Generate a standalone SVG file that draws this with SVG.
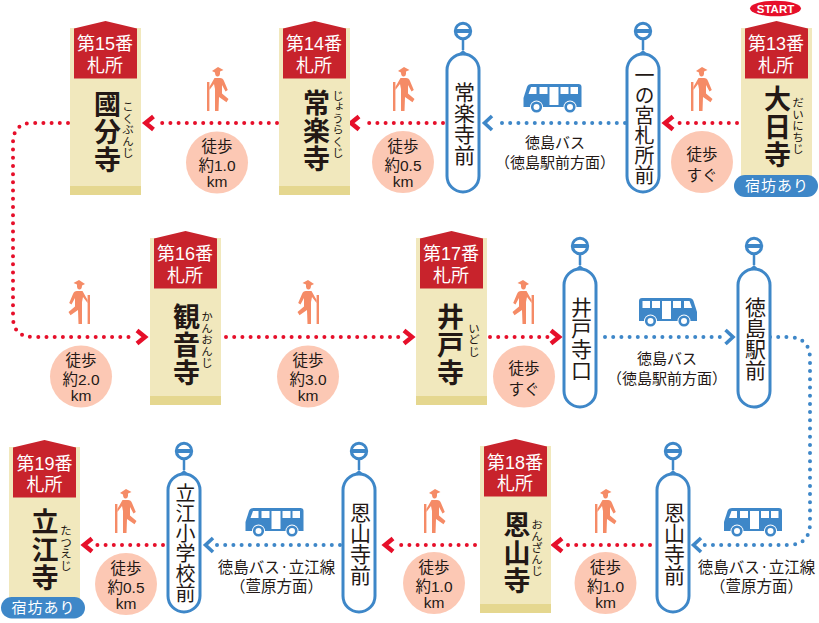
<svg xmlns="http://www.w3.org/2000/svg" width="819" height="623" viewBox="0 0 819 623">
<style>
text{font-family:"Liberation Sans","Noto Sans CJK JP",sans-serif;text-anchor:middle;fill:#231815}
.n{font-size:18px;fill:#fff}
.v{writing-mode:vertical-rl}
.t{font-size:27px;font-weight:700;letter-spacing:1px}
.r{font-size:11.5px}
.s{font-size:21px}
.w{font-size:15.5px}
.b{font-size:15px}
.y{font-size:15px;fill:#fff;letter-spacing:1px}
.rd{fill:none;stroke:#e60f2a;stroke-width:4;stroke-linecap:round;stroke-dasharray:0 8.2}
.bd{fill:none;stroke:#3e87c8;stroke-width:4;stroke-linecap:round;stroke-dasharray:0 8.2}
.ra{fill:none;stroke:#e60f2a;stroke-width:4.500}
.ba{fill:none;stroke:#3e87c8;stroke-width:3.600}
</style>
<defs>
<g id="post"><rect x="0" y="7" width="71" height="167" fill="#f1e8bd"/><rect x="0" y="165" width="71" height="9" fill="#e5d78f"/><path d="M4 7.500L35.500 0L67 7.500V57.500H4Z" fill="#c8232c"/></g>
<g id="stop"><circle cx="0" cy="0" r="7.700" fill="#fff" stroke="#3e87c8" stroke-width="3"/><rect x="-8" y="-2" width="16" height="4" fill="#3e87c8"/><path d="M0 8V19" stroke="#3e87c8" stroke-width="2.500"/><path d="M-6.500 25L0 19L6.500 25Z" fill="#3e87c8"/><rect x="-16" y="23" width="32" height="138" rx="16" fill="#fff" stroke="#3e87c8" stroke-width="3"/></g>
<g id="walk" fill="#f58b66"><rect x="0" y="-7" width="2.400" height="29"/><path d="M5 -18L11 -22L16.500 -19L13 -17.500V-15Q12.500 -12 10 -12.500Q8 -13 8 -16.500Z"/><path d="M7.500 -11H13Q16 -11 17 -8L20.800 1L18.500 2.500L15 -4V4.500L21.500 10L19.500 13.200L12 8L11.500 22H8V0L7 -5L2.400 1V-2Z"/></g>
<g id="bus"><path d="M-29 10V1L-25.500 -10Q-24.500 -13 -21 -13H26Q29 -13 29 -10V10Z" fill="#3e87c8"/><g fill="#fff"><path d="M-21.500 -10H-16V-3H-24Z"/><rect x="-13" y="-10" width="8" height="7"/><rect x="-3" y="-10" width="9" height="18"/><rect x="8" y="-10" width="8" height="7"/><rect x="18" y="-10" width="7.500" height="7"/></g><circle cx="-16" cy="10" r="6.500" fill="#fff"/><circle cx="17.500" cy="10" r="6.500" fill="#fff"/><circle cx="-16" cy="10" r="4.300" fill="#fff" stroke="#3e87c8" stroke-width="2.600"/><circle cx="17.500" cy="10" r="4.300" fill="#fff" stroke="#3e87c8" stroke-width="2.600"/></g>
</defs>

<g id="connectors">
<path class="rd" d="M737 123H676"/><path class="ra" d="M673 116.500L665 123L673 129.500"/>
<path class="bd" d="M625 123H497"/><path class="ba" d="M492 116L484.500 123L492 130"/>
<path class="rd" d="M443 123H362"/><path class="ra" d="M359 116.500L351 123L359 129.500"/>
<path class="rd" d="M277 123H156"/><path class="ra" d="M153.500 116.500L145.500 123L153.500 129.500"/>
<path class="rd" d="M68 123H33Q13 123 13 143V317Q13 337 33 337H134"/><path class="ra" d="M137 330.500L145 337L137 343.500"/>
<path class="rd" d="M226 337H404"/><path class="ra" d="M404 330.500L412 337L404 343.500"/>
<path class="rd" d="M490 337H548"/><path class="ra" d="M551 330.500L559 337L551 343.500"/>
<path class="bd" d="M605 337H721"/><path class="ba" d="M725.500 330L733 337L725.500 344"/>
<path class="bd" d="M770 337H788Q810 337 810 359V523Q810 545 788 545H703"/><path class="ba" d="M701 538L693.500 545L701 552"/>
<path class="rd" d="M650 545H567"/><path class="ra" d="M562 538.500L554 545L562 551.500"/>
<path class="rd" d="M475 545H396"/><path class="ra" d="M393 538.500L385 545L393 551.500"/>
<path class="bd" d="M340 545H215"/><path class="ba" d="M213 538L205.500 545L213 552"/>
<path class="rd" d="M163 545H94"/><path class="ra" d="M92 538.500L84 545L92 551.500"/>
</g>

<g id="start"><ellipse cx="775.500" cy="8.500" rx="25.500" ry="7.800" fill="#e60f2a"/><text x="775.500" y="13" style="font-size:11.500px;fill:#fff;font-weight:700">START</text></g>

<g id="temple13"><use href="#post" x="741" y="21"/><text class="n" x="776" y="50">第13番</text><text class="n" x="776" y="71.500">札所</text><text class="t v" x="775" y="127">大日寺</text><text class="r v" x="797" y="126">だいにちじ</text></g>
<g id="yado13"><rect x="734" y="175" width="84" height="22" rx="11" fill="#3e87c8"/><text class="y" x="777" y="191">宿坊あり</text></g>
<g id="temple14"><use href="#post" x="279" y="21"/><text class="n" x="314" y="50">第14番</text><text class="n" x="314" y="71.500">札所</text><text class="t v" x="314" y="131">常楽寺</text><text class="r v" x="337" y="124">じょうらくじ</text></g>
<g id="temple15"><use href="#post" x="70" y="21"/><text class="n" x="105" y="50">第15番</text><text class="n" x="105" y="71.500">札所</text><text class="t v" x="105" y="132">國分寺</text><text class="r v" x="127" y="130">こくぶんじ</text></g>
<g id="temple16"><use href="#post" x="150" y="231"/><text class="n" x="185" y="260">第16番</text><text class="n" x="185" y="282">札所</text><text class="t v" x="184" y="345.500">観音寺</text><text class="r v" x="206" y="340">かんおんじ</text></g>
<g id="temple17"><use href="#post" x="416" y="231"/><text class="n" x="451" y="260">第17番</text><text class="n" x="451" y="282">札所</text><text class="t v" x="448" y="345.500">井戸寺</text><text class="r v" x="473" y="340">いどじ</text></g>
<g id="temple18"><use href="#post" x="480" y="439"/><text class="n" x="515" y="469">第18番</text><text class="n" x="515" y="490">札所</text><text class="t v" x="514.500" y="553.500">恩山寺</text><text class="r v" x="536" y="548">おんざんじ</text></g>
<g id="temple19"><use href="#post" x="9" y="440"/><text class="n" x="44.500" y="470">第19番</text><text class="n" x="44.500" y="491">札所</text><text class="t v" x="42.500" y="550">立江寺</text><text class="r v" x="65" y="548">たつえじ</text></g>
<g id="yado19"><rect x="1" y="597" width="84" height="21.500" rx="10.700" fill="#3e87c8"/><text class="y" x="43.500" y="612.500">宿坊あり</text></g>

<g id="stop1"><use href="#stop" x="643" y="31"/><text class="s v" x="643" y="125.500" style="font-size:20px">一の宮札所前</text></g>
<g id="stop2"><use href="#stop" x="463" y="31"/><text class="s v" x="463" y="123.500">常楽寺前</text></g>
<g id="stop3"><use href="#stop" x="580" y="246"/><text class="s v" x="580" y="338.500">井戸寺口</text></g>
<g id="stop4"><use href="#stop" x="754" y="246"/><text class="s v" x="754" y="338.500">徳島駅前</text></g>
<g id="stop5"><use href="#stop" x="673" y="451"/><text class="s v" x="673" y="543.500">恩山寺前</text></g>
<g id="stop6"><use href="#stop" x="359" y="451"/><text class="s v" x="359" y="543.500">恩山寺前</text></g>
<g id="stop7"><use href="#stop" x="184" y="451"/><text class="s v" x="184" y="543" style="font-size:20px">立江小学校前</text></g>

<g id="walkers"><use href="#walk" x="691" y="89"/><use href="#walk" x="393" y="89"/><use href="#walk" x="207" y="89"/>
<use href="#walk" transform="translate(90 302) scale(-1 1)"/><use href="#walk" transform="translate(319 302) scale(-1 1)"/><use href="#walk" transform="translate(534 302) scale(-1 1)"/>
<use href="#walk" x="595" y="511"/><use href="#walk" x="424" y="511"/><use href="#walk" x="115" y="511"/></g>

<g id="buses"><use href="#bus" x="552.500" y="97"/><use href="#bus" transform="translate(668 311) scale(-1 1)"/><use href="#bus" x="753" y="521"/><use href="#bus" x="274.500" y="521"/></g>

<g id="circles" fill="#fcc8b4"><circle cx="702" cy="162" r="31"/><circle cx="403" cy="162" r="31"/><circle cx="217" cy="162.500" r="31"/><circle cx="81" cy="376.500" r="31"/><circle cx="308" cy="376.500" r="31"/><circle cx="524" cy="376.500" r="31"/><circle cx="605.500" cy="583" r="31"/><circle cx="434" cy="583" r="31"/><circle cx="126" cy="584" r="31"/></g>
<g id="walklabels">
<text class="w"><tspan x="702" y="160">徒歩</tspan><tspan x="702" y="181">すぐ</tspan></text>
<text class="w"><tspan x="403" y="152">徒歩</tspan><tspan x="403" y="171">約0.5</tspan><tspan x="403" y="187">km</tspan></text>
<text class="w"><tspan x="217" y="152">徒歩</tspan><tspan x="217" y="171">約1.0</tspan><tspan x="217" y="187">km</tspan></text>
<text class="w"><tspan x="81" y="366">徒歩</tspan><tspan x="81" y="385">約2.0</tspan><tspan x="81" y="401">km</tspan></text>
<text class="w"><tspan x="308" y="366">徒歩</tspan><tspan x="308" y="385">約3.0</tspan><tspan x="308" y="401">km</tspan></text>
<text class="w"><tspan x="524" y="374">徒歩</tspan><tspan x="524" y="395">すぐ</tspan></text>
<text class="w"><tspan x="605.500" y="573">徒歩</tspan><tspan x="605.500" y="592">約1.0</tspan><tspan x="605.500" y="608">km</tspan></text>
<text class="w"><tspan x="434" y="573">徒歩</tspan><tspan x="434" y="592">約1.0</tspan><tspan x="434" y="608">km</tspan></text>
<text class="w"><tspan x="126" y="574">徒歩</tspan><tspan x="126" y="593">約0.5</tspan><tspan x="126" y="609">km</tspan></text>
</g>
<g id="buslabels">
<text class="b" x="555" y="148">徳島バス</text><text class="b" x="555" y="168">（徳島駅前方面）</text>
<text class="b" x="667" y="364">徳島バス</text><text class="b" x="667" y="384">（徳島駅前方面）</text>
<text class="b" x="756.500" y="573" style="font-size:15.500px">徳島バス<tspan dy="-3" style="font-size:9px">・</tspan><tspan dy="3">立江線</tspan></text><text class="b" x="756.500" y="592" style="font-size:15.500px">（萱原方面）</text>
<text class="b" x="276.500" y="573" style="font-size:15.500px">徳島バス<tspan dy="-3" style="font-size:9px">・</tspan><tspan dy="3">立江線</tspan></text><text class="b" x="276.500" y="592" style="font-size:15.500px">（萱原方面）</text>
</g>
</svg>
